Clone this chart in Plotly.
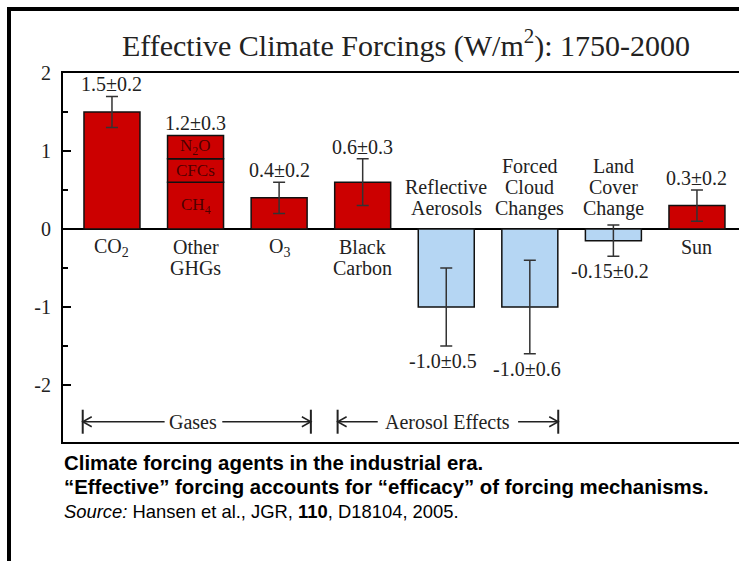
import plotly.graph_objects as go

# Forcing agents, 1750-2000 (W/m^2)
categories = [["CO<sub>2</sub>"], ["Other", "GHGs"], ["O<sub>3</sub>"], ["Black", "Carbon"],
              ["Reflective", "Aerosols"], ["Forced", "Cloud", "Changes"],
              ["Land", "Cover", "Change"], ["Sun"]]
forcing = [1.5, 1.2, 0.4, 0.6, -1.0, -1.0, -0.15, 0.3]
uncertainty = [0.2, 0.3, 0.2, 0.3, 0.5, 0.6, 0.2, 0.2]

# Breakdown of the "Other GHGs" bar
ghg_names = ["CH<sub>4</sub>", "CFCs", "N<sub>2</sub>O"]
ghg_values = [0.6, 0.3, 0.3]

# y-axis ticks
y_ticks = [-2, -1, 0, 1, 2]
y_tick_text = ["-2", "-1", "0", "1", "2"]

# Group brackets: label, start, end, gap around the label
groups = [("Gases", -0.35, 2.38, 0.63, 1.32),
          ("Aerosol Effects", 2.70, 5.34, 3.18, 4.86)]

RED = "#cc0000"
BLUE = "#b5d6f3"
INK = "#222222"
SERIF = "Liberation Serif"
SANS = "Liberation Sans"

W, H = 739, 561
ML, MT, MB = 63, 73, 119
XR = [-0.586, 7.503]
YR = [-2.73, 2.0]
plot_w = W - ML
plot_h = H - MT - MB
px_x = (XR[1] - XR[0]) / plot_w
px_y = (YR[1] - YR[0]) / plot_h

def fmt(v):
    s = f"{v:.2f}"
    return s[:-1] if s.endswith("0") else s

fig = go.Figure()

# single bars (all except the stacked GHG column)
idx = [i for i in range(len(forcing)) if i != 1]
fig.add_trace(go.Bar(
    x=idx, y=[forcing[i] for i in idx],
    marker=dict(color=[RED if forcing[i] > 0 else BLUE for i in idx],
                line=dict(color="#111111", width=1.5)),
    width=0.67,
    error_y=dict(type="data", array=[uncertainty[i] for i in idx], symmetric=True,
                 color="#333333", thickness=1.5, width=6),
    hoverinfo="skip", showlegend=False,
))

# stacked "Other GHGs" column
bases = [sum(ghg_values[:k]) for k in range(len(ghg_values))]
fig.add_trace(go.Bar(
    x=[1] * len(ghg_values), y=ghg_values, base=bases,
    marker=dict(color=RED, line=dict(color="#111111", width=1.5)),
    width=0.67, hoverinfo="skip", showlegend=False,
))

ann = []
for name, b, v in zip(ghg_names, bases, ghg_values):
    ann.append(dict(x=1, y=b + v / 2, text=name, showarrow=False,
                    font=dict(family=SERIF, size=17, color="rgba(60,0,0,0.9)")))

# value labels
for i, (v, u) in enumerate(zip(forcing, uncertainty)):
    txt = f"{fmt(v)}±{fmt(u)}"
    if v > 0:
        top = v if i == 1 else v + u
        ann.append(dict(x=i, y=top, yshift=12, text=txt, showarrow=False,
                        font=dict(family=SERIF, size=20, color=INK)))
    else:
        ann.append(dict(x=i, y=v - u, yshift=-15, xshift=-3, text=txt, showarrow=False,
                        font=dict(family=SERIF, size=20, color=INK)))

# category labels
for i, lines in enumerate(categories):
    n = len(lines)
    for k, line in enumerate(lines):
        if forcing[i] > 0:
            shift = -(18 + 21 * k)
        else:
            shift = 21 + 21 * (n - 1 - k)
        ann.append(dict(x=i, y=0, yshift=shift, text=line, showarrow=False,
                        font=dict(family=SERIF, size=20, color=INK)))

# group brackets
shapes = []
yb = -2.47
head_dx, head_dy, bar_dy = 9 * px_x, 5 * px_y, 12 * px_y
line_style = dict(color=INK, width=1.5)
for label, x0, x1, g0, g1 in groups:
    ann.append(dict(x=(g0 + g1) / 2, y=yb, text=label, showarrow=False,
                    font=dict(family=SERIF, size=20, color=INK)))
    shapes += [
        dict(type="line", x0=x0, x1=g0, y0=yb, y1=yb, line=line_style),
        dict(type="line", x0=g1, x1=x1, y0=yb, y1=yb, line=line_style),
        dict(type="line", x0=x0, x1=x0, y0=yb - bar_dy, y1=yb + bar_dy, line=dict(color=INK, width=2)),
        dict(type="line", x0=x1, x1=x1, y0=yb - bar_dy, y1=yb + bar_dy, line=dict(color=INK, width=2)),
        dict(type="path", path=f"M{x0 + head_dx},{yb + head_dy} L{x0},{yb} L{x0 + head_dx},{yb - head_dy}",
             line=line_style),
        dict(type="path", path=f"M{x1 - head_dx},{yb + head_dy} L{x1},{yb} L{x1 - head_dx},{yb - head_dy}",
             line=line_style),
    ]

# page frame (top and left rules)
def paper_x(px):
    return (px - ML) / plot_w

def paper_y(py):
    return (H - MB - py) / plot_h

shapes += [
    dict(type="line", xref="paper", yref="paper", x0=paper_x(7), x1=paper_x(745),
         y0=paper_y(9), y1=paper_y(9), line=dict(color="black", width=4)),
    dict(type="line", xref="paper", yref="paper", x0=paper_x(9), x1=paper_x(9),
         y0=paper_y(7), y1=paper_y(570), line=dict(color="black", width=4)),
]

# caption
caption = [
    ("<b>Climate forcing agents in the industrial era.</b>", 463, 20.4),
    ("<b>“Effective” forcing accounts for “efficacy” of forcing mechanisms.</b>", 487, 20.4),
    ("<i>Source:</i> Hansen et al., JGR, <b>110</b>, D18104, 2005.", 511, 18.4),
]
for txt, py, size in caption:
    ann.append(dict(xref="paper", yref="paper", x=paper_x(62), y=paper_y(py),
                    xanchor="left", yanchor="middle", text=txt, showarrow=False,
                    font=dict(family=SANS, size=size, color="black")))

fig.update_layout(
    width=W, height=H,
    margin=dict(l=ML, r=0, t=MT, b=MB, pad=0),
    paper_bgcolor="white", plot_bgcolor="white",
    barmode="overlay",
    title=dict(text="Effective Climate Forcings (W/m<sup>2</sup>): 1750-2000",
               x=406 / W, xanchor="center", y=1 - 45 / H, yanchor="middle",
               font=dict(family=SERIF, size=30, color=INK)),
    xaxis=dict(range=XR, showticklabels=False, ticks="", showgrid=False, zeroline=False,
               showline=True, mirror=True, linecolor="black", linewidth=2),
    yaxis=dict(range=YR, tickvals=y_ticks, ticktext=y_tick_text, ticks="inside", ticklen=8,
               tickwidth=1.5, tickcolor="black", ticklabelstandoff=6,
               minor=dict(tickvals=[-1.5, -0.5, 0.5, 1.5], ticks="inside", ticklen=5,
                          tickwidth=1.5, tickcolor="black"),
               tickfont=dict(family=SERIF, size=20, color=INK),
               showgrid=False, showline=True, linecolor="black", linewidth=2,
               zeroline=True, zerolinecolor="black", zerolinewidth=1.5),
    annotations=ann,
    shapes=shapes,
)

fig.write_html("out.html")
